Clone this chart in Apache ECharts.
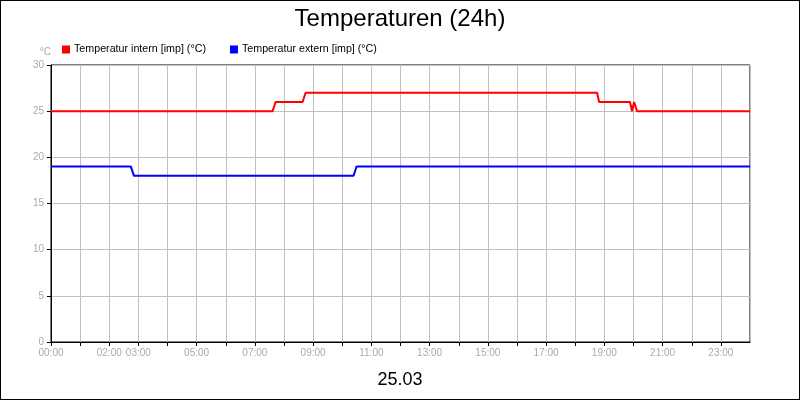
<!DOCTYPE html>
<html><head><meta charset="utf-8">
<script src="https://cdn.jsdelivr.net/npm/echarts@6/dist/echarts.min.js"></script>
<style>html,body{margin:0;padding:0;background:#fff}#c{width:798px;height:398px;border:1px solid #000}</style>
</head><body><div id="c"></div>
<script>
const internHours = [0, 7.61, 7.71, 8.64, 8.74, 18.75, 18.82, 19.88, 19.95, 20.02, 20.12, 24];
const internVals  = [25, 25, 26, 26, 27, 27, 26, 26, 25, 26, 25, 25];
const externHours = [0, 2.74, 2.85, 10.39, 10.49, 24];
const externVals  = [19, 19, 18, 18, 19, 19];
const tickLabels = [0, 2, 3, 5, 7, 9, 11, 13, 15, 17, 19, 21, 23];
const zip = (h, v) => h.map((x, i) => [x, v[i]]);
const chart = echarts.init(document.getElementById('c'));
chart.setOption({
  animation: false,
  title: [{text: 'Temperaturen (24h)', left: 'center', top: 1, textStyle: {fontFamily: 'Liberation Sans', fontSize: 24, fontWeight: 'normal', color: '#000'}},
          {text: '25.03', left: 'center', top: 365, textStyle: {fontFamily: 'Liberation Sans', fontSize: 18, fontWeight: 'normal', color: '#000'}}],
  legend: {left: 56, top: 38, itemWidth: 8, itemHeight: 8, itemGap: 24, icon: 'rect',
    textStyle: {fontFamily: 'Liberation Sans', fontSize: 10.7, color: '#000', padding: [0,0,0,-1]},
    data: ['Temperatur intern [imp] (°C)', 'Temperatur extern [imp] (°C)']},
  grid: {left: 50, right: 49, top: 64, bottom: 57, show: true, borderColor: '#000', borderWidth: 1},
  xAxis: {type: 'value', min: 0, max: 24, interval: 1,
    axisLine: {lineStyle: {color: '#000'}}, axisTick: {show: true, length: 4, lineStyle: {color: '#000'}},
    splitLine: {show: true, lineStyle: {color: '#c0c0c0'}},
    axisLabel: {color: '#aaa', fontFamily: 'Liberation Sans', fontSize: 10, margin: 6, showMaxLabel: false,
      formatter: v => tickLabels.includes(v) ? String(v).padStart(2, '0') + ':00' : ''}},
  yAxis: {type: 'value', min: 0, max: 30, interval: 5, name: '°C', nameGap: 8,
    nameTextStyle: {color: '#aaa', fontSize: 10, align: 'right', padding: [0, 0, 0, 0]},
    axisLine: {show: true, lineStyle: {color: '#000'}}, axisTick: {show: true, length: 4, lineStyle: {color: '#000'}},
    splitLine: {show: true, lineStyle: {color: '#c0c0c0'}},
    axisLabel: {color: '#aaa', fontFamily: 'Liberation Sans', fontSize: 10, margin: 7}},
  series: [
    {name: 'Temperatur intern [imp] (°C)', type: 'line', data: zip(internHours, internVals), symbol: 'none', color: '#ff0000', lineStyle: {width: 2}},
    {name: 'Temperatur extern [imp] (°C)', type: 'line', data: zip(externHours, externVals), symbol: 'none', color: '#0000ff', lineStyle: {width: 2}}
  ]
});
</script></body></html>
